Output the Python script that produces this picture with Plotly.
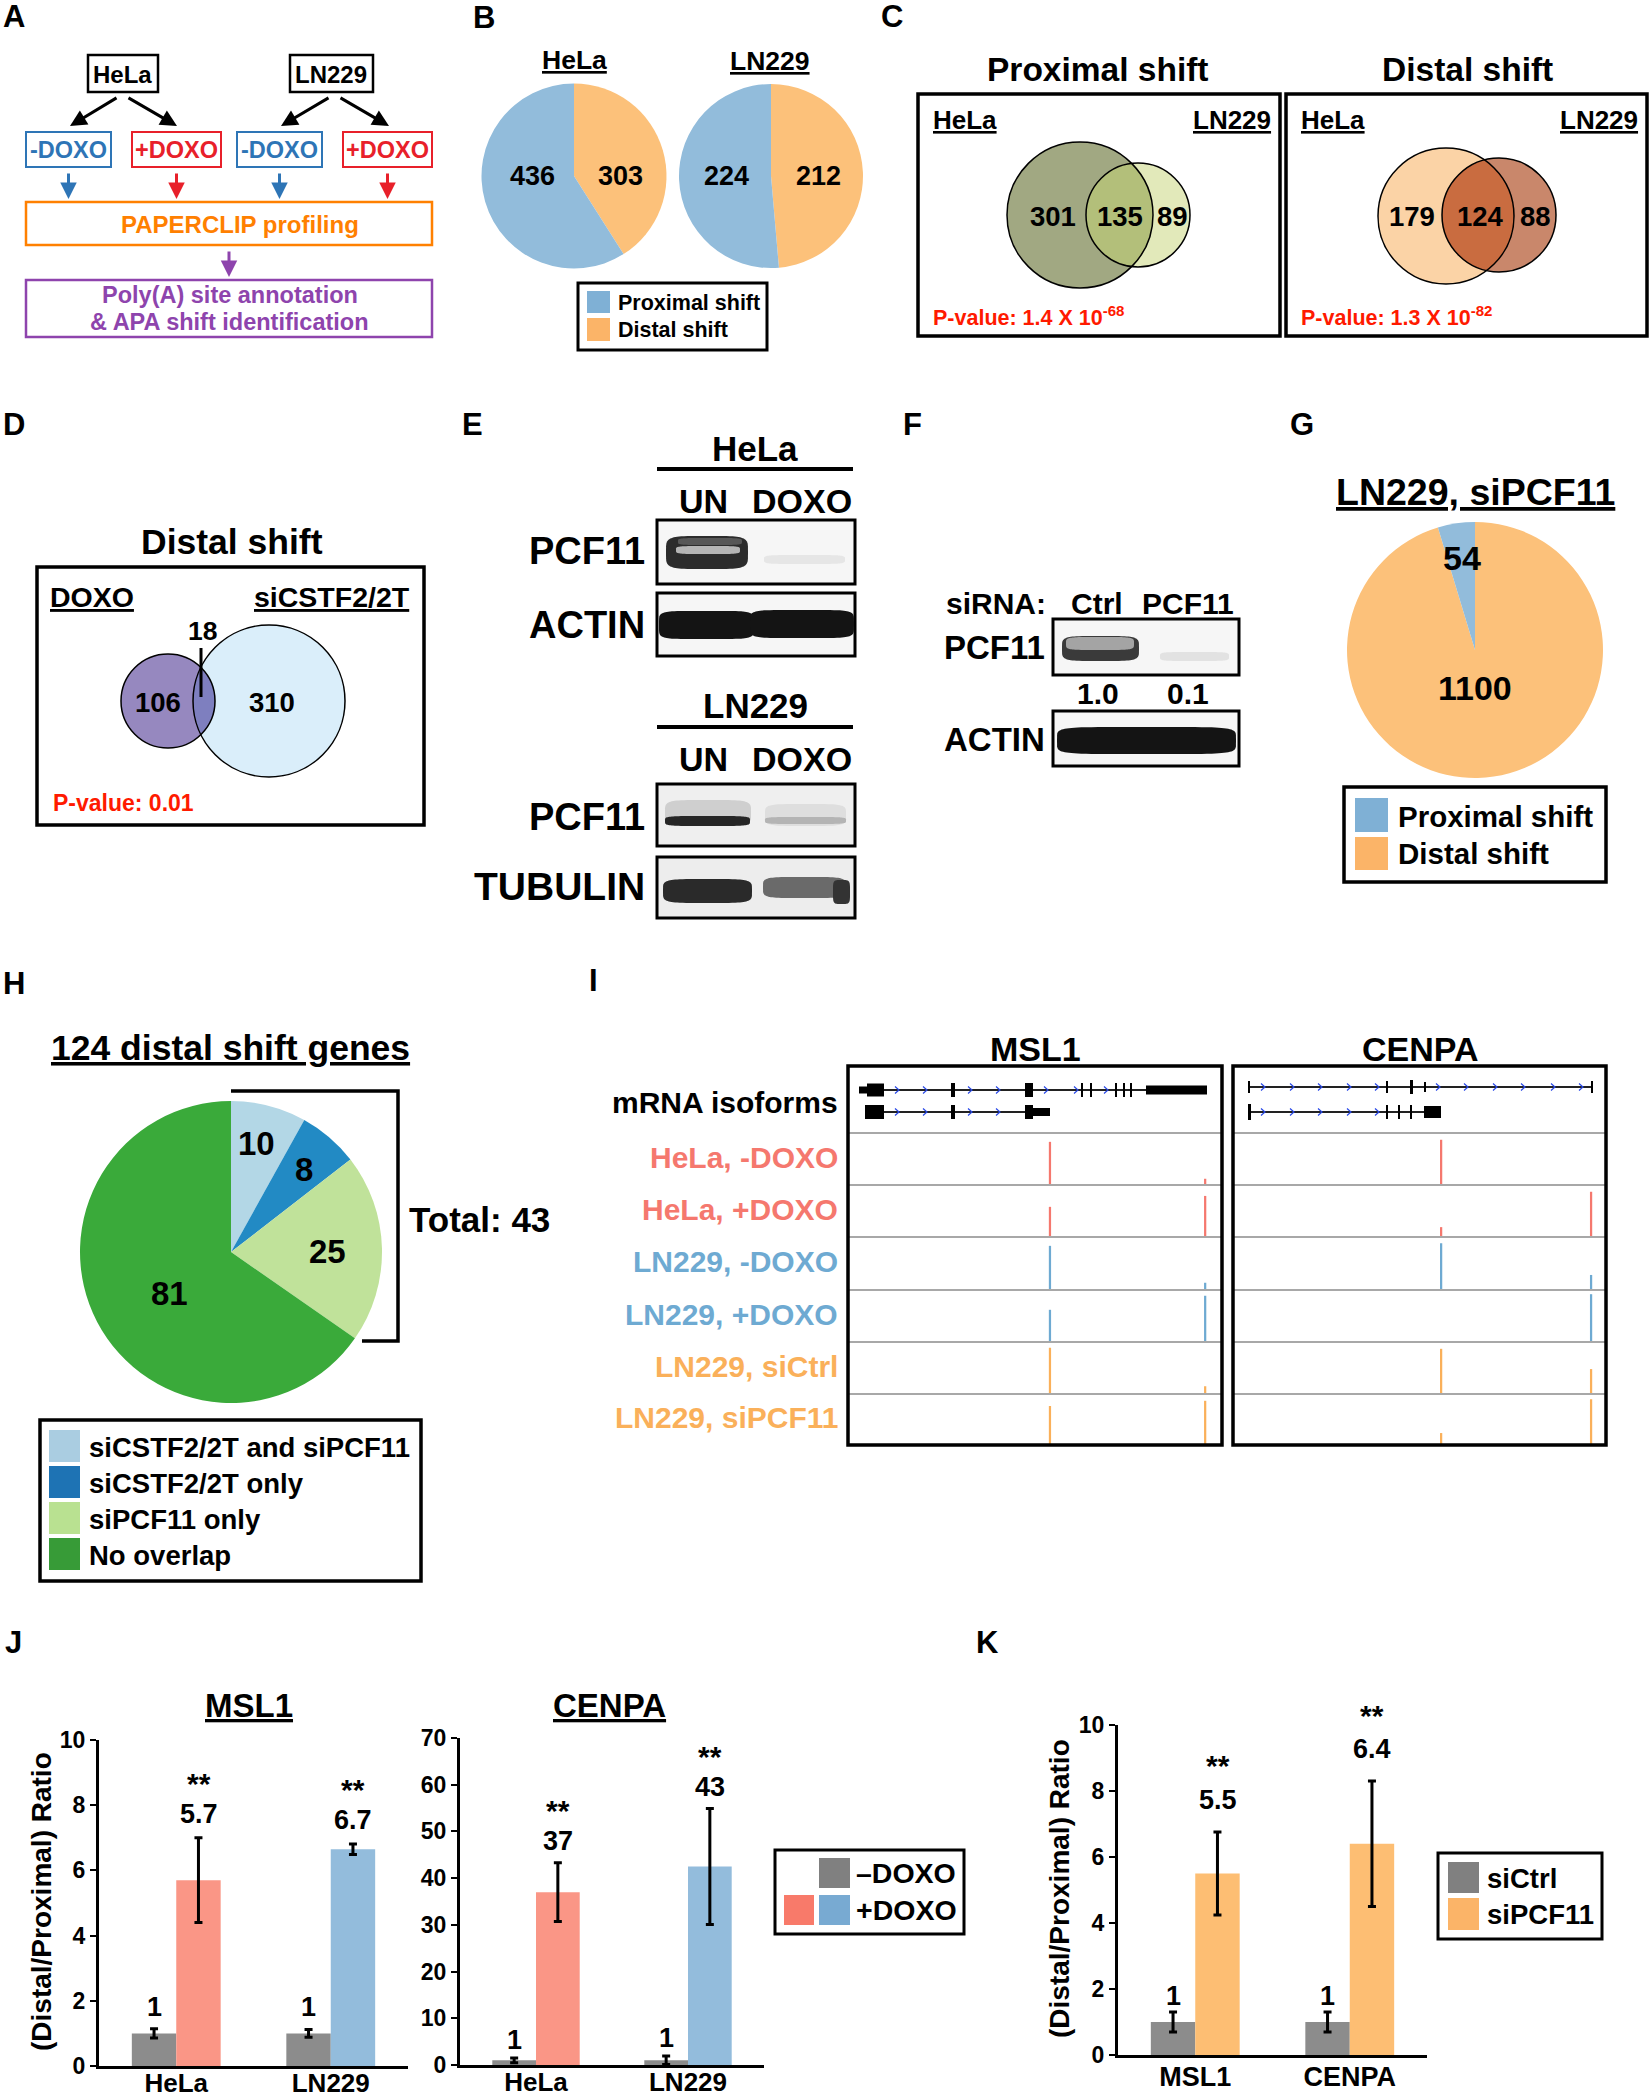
import numpy as np
import plotly.graph_objects as go

W, H = 1650, 2100
FONT = "Liberation Sans"

# ---------------- data ----------------
B_LABELS = ["Distal shift", "Proximal shift"]
B_HELA = [303, 436]
B_LN229 = [212, 224]

C_PROX = [301, 135, 89]      # HeLa only, both, LN229 only
C_DIST = [179, 124, 88]
C_PVAL = ["1.4 X 10<sup>-68</sup>", "1.3 X 10<sup>-82</sup>"]

D_COUNTS = [106, 18, 310]    # DOXO only, both, siCSTF2/2T only
D_PVAL = "0.01"

F_QUANT = ["1.0", "0.1"]

G_LABELS = ["Distal shift", "Proximal shift"]
G_VALUES = [1100, 54]

H_LABELS = ["siCSTF2/2T and siPCF11", "siCSTF2/2T only", "siPCF11 only", "No overlap"]
H_VALUES = [10, 8, 25, 81]
H_TOTAL = 43

I_TRACKS = ["HeLa, -DOXO", "HeLa, +DOXO", "LN229, -DOXO", "LN229, +DOXO",
            "LN229, siCtrl", "LN229, siPCF11"]
MSL1_SITES = [0.54, 0.955]       # P, D position along the gene box
CENPA_SITES = [0.558, 0.96]
MSL1_PROX = [0.83, 0.58, 0.83, 0.60, 0.87, 0.75]
MSL1_DIST = [0.12, 0.79, 0.12, 0.87, 0.13, 0.85]
CENPA_PROX = [0.87, 0.19, 0.88, 0.0, 0.85, 0.23]
CENPA_DIST = [0.0, 0.87, 0.27, 0.90, 0.46, 0.88]

J_GROUPS = ["HeLa", "LN229"]
J_MSL1_CTRL = [1, 1]
J_MSL1_CTRL_ERR = [0.14, 0.12]
J_MSL1_DOXO = [5.7, 6.65]
J_MSL1_DOXO_ERR = [1.3, 0.16]
J_MSL1_TXT = ["5.7", "6.7"]
J_CENPA_CTRL = [1, 1]
J_CENPA_CTRL_ERR = [0.5, 0.9]
J_CENPA_DOXO = [37, 42.5]
J_CENPA_DOXO_ERR = [6.3, 12.4]
J_CENPA_TXT = ["37", "43"]

K_GENES = ["MSL1", "CENPA"]
K_CTRL = [1, 1]
K_CTRL_ERR = [0.3, 0.3]
K_SI = [5.5, 6.4]
K_SI_ERR = [1.26, 1.9]
K_TXT = ["5.5", "6.4"]

# ---------------- colours ----------------
BLUE_A, RED_A, ORANGE_A, PURPLE_A = "#2e75b6", "#e8202a", "#ff8000", "#8e44ad"
PIE_BLUE, PIE_ORANGE = "#92bcdb", "#fcc17a"
SW_BLUE, SW_ORANGE = "#7fb0d5", "#fbb468"
GRAY = "#8c8c8c"
TR_RED, TR_BLUE, TR_ORANGE = "#f5786e", "#6eaad2", "#fab05a"
H_COLORS = ["#b3d7e6", "#228ac4", "#c0e29a", "#3aaa3a"]
H_SW = ["#aacde1", "#1e73b4", "#b9e191", "#379b37"]

shapes, ann = [], []


def X(p):
    return p / W


def Y(p):
    return 1 - p / H


def box(x0, y0, x1, y1, color="black", lw=3, fill="rgba(0,0,0,0)"):
    shapes.append(dict(type="rect", xref="paper", yref="paper", x0=X(x0), x1=X(x1),
                       y0=Y(y1), y1=Y(y0), fillcolor=fill, layer="above",
                       line=dict(color=color, width=lw)))


def seg(x0, y0, x1, y1, color="black", lw=3):
    shapes.append(dict(type="line", xref="paper", yref="paper", x0=X(x0), y0=Y(y0),
                       x1=X(x1), y1=Y(y1), line=dict(color=color, width=lw), layer="above"))


def poly(pts, fill, lw=0, color="black", closed=True, opacity=1):
    path = "M " + " L ".join(f"{X(a):.5f},{Y(b):.5f}" for a, b in pts) + (" Z" if closed else "")
    shapes.append(dict(type="path", xref="paper", yref="paper", path=path, fillcolor=fill,
                       opacity=opacity, line=dict(color=color, width=lw), layer="above"))


def disc(cx, cy, r, fill, lw=0):
    shapes.append(dict(type="circle", xref="paper", yref="paper", x0=X(cx - r), x1=X(cx + r),
                       y0=Y(cy + r), y1=Y(cy - r), fillcolor=fill, layer="above",
                       line=dict(color="black", width=lw)))


def lens(c1, r1, c2, r2, fill):
    t = np.linspace(0, 2 * np.pi, 360, endpoint=False)
    pts = []
    for (cx, cy, r), (ox, oy, rr) in [((c1[0], c1[1], r1), (c2[0], c2[1], r2)),
                                      ((c2[0], c2[1], r2), (c1[0], c1[1], r1))]:
        xs, ys = cx + r * np.cos(t), cy + r * np.sin(t)
        keep = (xs - ox) ** 2 + (ys - oy) ** 2 <= rr ** 2
        pts += list(zip(xs[keep], ys[keep]))
    mx = np.mean([p[0] for p in pts])
    my = np.mean([p[1] for p in pts])
    pts.sort(key=lambda p: np.arctan2(p[1] - my, p[0] - mx))
    poly(pts, fill)


def venn(c1, r1, f1, c2, r2, f2, fl):
    disc(c1[0], c1[1], r1, f1)
    disc(c2[0], c2[1], r2, f2)
    lens(c1, r1, c2, r2, fl)
    disc(c1[0], c1[1], r1, "rgba(0,0,0,0)", 1.5)
    disc(c2[0], c2[1], r2, "rgba(0,0,0,0)", 1.5)


def blob(x0, y0, x1, y1, color, opacity=1.0, n=5):
    t = np.linspace(0, 2 * np.pi, 80, endpoint=False)
    cx, cy, a, b = (x0 + x1) / 2, (y0 + y1) / 2, (x1 - x0) / 2, (y1 - y0) / 2
    c, s = np.cos(t), np.sin(t)
    xs = cx + a * np.sign(c) * np.abs(c) ** (2 / n)
    ys = cy + b * np.sign(s) * np.abs(s) ** (2 / n)
    poly(list(zip(xs, ys)), color, opacity=opacity)


def txt(x, y, s, size, color="black", xa="center", ya="middle", bold=True, under=False, angle=0):
    f = dict(family=FONT, size=size, color=color, weight="bold" if bold else "normal")
    if under:
        f["lineposition"] = "under"
    ann.append(dict(x=X(x), y=Y(y), xref="paper", yref="paper", text=s, showarrow=False,
                    font=f, xanchor=xa, yanchor=ya, textangle=angle))


def arrow(x0, y0, x1, y1, color, lw=3, size=1.1):
    ann.append(dict(x=X(x1), y=Y(y1), xref="paper", yref="paper", ax=x0 - x1, ay=y0 - y1,
                    showarrow=True, arrowhead=2, arrowsize=size, arrowwidth=lw,
                    arrowcolor=color, text="", standoff=0))


fig = go.Figure()

# ---------------- panel letters ----------------
for letter, (lx, ly) in zip("ABCDEFGHIJK", [(14, 16), (484, 18), (892, 16), (14, 424), (472, 424),
                                             (912, 424), (1302, 424), (14, 983), (593, 981),
                                             (13, 1642), (987, 1642)]):
    txt(lx, ly, letter, 31)

# ---------------- A: workflow ----------------
box(88, 55, 158, 92, lw=2.5)
box(290, 55, 373, 92, lw=2.5)
txt(123, 74, "HeLa", 24)
txt(331, 74, "LN229", 24)
for x0, x1, sign, col in [(26, 111, "-", BLUE_A), (132, 221, "+", RED_A),
                          (237, 322, "-", BLUE_A), (343, 432, "+", RED_A)]:
    box(x0, 132, x1, 167, color=col, lw=2)
    txt((x0 + x1) / 2, 150, sign + "DOXO", 23.5, color=col)
    arrow((x0 + x1) / 2, 172, (x0 + x1) / 2, 199, col, lw=3)
arrow(118, 97, 70, 126, "black")
arrow(127, 97, 177, 126, "black")
arrow(330, 97, 281, 126, "black")
arrow(339, 97, 389, 126, "black")
box(26, 202, 432, 245, color=ORANGE_A, lw=2.5)
txt(240, 224, "PAPERCLIP profiling", 24, color=ORANGE_A)
arrow(229, 250, 229, 277, PURPLE_A)
box(26, 280, 432, 337, color=PURPLE_A, lw=2.5)
txt(230, 295, "Poly(A) site annotation", 23.5, color=PURPLE_A)
txt(229, 322, "& APA shift identification", 23.5, color=PURPLE_A)


# ---------------- pies ----------------
def pie(values, labels, colors, cx, cy, r):
    fig.add_trace(go.Pie(values=values, labels=labels, sort=False, direction="clockwise",
                         rotation=0, textinfo="none", hoverinfo="skip", showlegend=False,
                         marker=dict(colors=colors, line=dict(width=0)),
                         domain=dict(x=[X(cx - r), X(cx + r)], y=[Y(cy + r), Y(cy - r)])))


# B
pie(B_HELA, B_LABELS, [PIE_ORANGE, PIE_BLUE], 574, 176, 92.5)
pie(B_LN229, B_LABELS, [PIE_ORANGE, PIE_BLUE], 771, 176, 92)
txt(574, 60, "HeLa", 26.5, under=True)
txt(770, 61, "LN229", 26.5, under=True)
txt(532, 176, str(B_HELA[1]), 27)
txt(620, 176, str(B_HELA[0]), 27)
txt(726, 176, str(B_LN229[1]), 27)
txt(818, 176, str(B_LN229[0]), 27)
box(578, 283, 767, 350, lw=3)
box(587, 291, 610, 313, lw=0, fill=SW_BLUE)
box(587, 318, 610, 341, lw=0, fill=SW_ORANGE)
txt(616, 303, B_LABELS[1], 21.5, xa="left")
txt(616, 330, B_LABELS[0], 21.5, xa="left")

# ---------------- C: venns ----------------
txt(1098, 70, "Proximal shift", 33.5)
txt(1467, 70, "Distal shift", 33.5)
for bx0, bx1 in [(918, 1280), (1286, 1647)]:
    box(bx0, 94, bx1, 336, lw=3.5)
    txt(bx0 + 13, 120, "HeLa", 26, xa="left", under=True)
    txt(bx1 - 7, 120, "LN229", 26, xa="right", under=True)
venn((1080, 215), 73, "#a1a882", (1138, 215), 52, "#e2e9ba", "#b3bf7a")
venn((1446, 216), 68, "#fbd3a6", (1499, 215), 57, "#c9876b", "#c96c40")
for xs, vals in [((1053, 1120, 1172), C_PROX), ((1412, 1480, 1535), C_DIST)]:
    for xv, v in zip(xs, vals):
        txt(xv, 216, str(v), 27.5)
txt(931, 316, "P-value: " + C_PVAL[0], 21.5, color="#ff1a00", xa="left")
txt(1299, 316, "P-value: " + C_PVAL[1], 21.5, color="#ff1a00", xa="left")

# ---------------- D ----------------
txt(232, 542, "Distal shift", 35.5)
box(37, 567, 424, 825, lw=3.5)
txt(48, 597, "DOXO", 28.5, xa="left", under=True)
txt(412, 597, "siCSTF2/2T", 28.5, xa="right", under=True)
venn((168, 701), 47, "#9688bf", (269, 701), 76, "#daeefa", "#7e7fbf")
txt(158, 702, str(D_COUNTS[0]), 27.5)
txt(272, 702, str(D_COUNTS[2]), 27.5)
txt(202, 631, str(D_COUNTS[1]), 26.5)
seg(201, 648, 201, 697, lw=3)
txt(51, 803, "P-value: " + D_PVAL, 23, color="#ff1a00", xa="left")

# ---------------- E: western blots ----------------
for top, cell in [(448, "HeLa"), (706, "LN229")]:
    txt(755, top, cell, 35)
    seg(657, top + 21, 853, top + 21, lw=4)
    txt(703, top + 53, "UN", 34)
    txt(802, top + 53, "DOXO", 34)
# HeLa
box(657, 520, 855, 584, lw=3, fill="#f6f6f6")
box(657, 593, 855, 656, lw=3, fill="#f6f6f6")
txt(647, 551, "PCF11", 38, xa="right")
txt(647, 625, "ACTIN", 38, xa="right")
blob(666, 536, 748, 569, "#2c2c2c")
blob(676, 546, 740, 554, "#c4c4c4", opacity=0.9)
blob(678, 538, 742, 545, "#6a6a6a", opacity=0.7)
blob(764, 555, 845, 564, "#e6e6e6")
blob(659, 611, 754, 639, "#141414", n=6)
blob(750, 610, 854, 638, "#141414", n=6)
# LN229
box(657, 784, 855, 846, lw=3, fill="#efefef")
box(657, 857, 855, 918, lw=3, fill="#ededed")
txt(647, 817, "PCF11", 38, xa="right")
txt(647, 887, "TUBULIN", 39, xa="right")
blob(665, 800, 751, 826, "#cfcfcf")
blob(665, 816, 750, 826, "#262626")
blob(765, 804, 846, 826, "#dedede")
blob(765, 817, 846, 824, "#b4b4b4")
blob(663, 879, 752, 903, "#2a2a2a")
blob(763, 877, 846, 898, "#6a6a6a")
blob(833, 880, 850, 904, "#333333")

# ---------------- F ----------------
txt(944, 603, "siRNA:", 30, xa="left")
txt(1097, 603, "Ctrl", 30)
txt(1188, 603, "PCF11", 30)
box(1053, 619, 1239, 675, lw=3, fill="#f6f6f6")
box(1053, 711, 1239, 766, lw=3, fill="#f6f6f6")
txt(1047, 648, "PCF11", 33, xa="right")
txt(1047, 739, "ACTIN", 33, xa="right")
txt(1098, 693, F_QUANT[0], 30)
txt(1188, 693, F_QUANT[1], 30)
blob(1062, 636, 1139, 661, "#3a3a3a")
blob(1066, 637, 1134, 650, "#b0b0b0", opacity=0.9)
blob(1160, 652, 1229, 661, "#e2e2e2")
blob(1057, 727, 1236, 754, "#141414", n=6)

# ---------------- G ----------------
txt(1475, 492, "LN229, siPCF11", 37.5, under=True)
pie(G_VALUES, G_LABELS, [PIE_ORANGE, PIE_BLUE], 1475, 650, 128)
txt(1462, 558, str(G_VALUES[1]), 34)
txt(1475, 688, str(G_VALUES[0]), 34)
box(1344, 787, 1606, 882, lw=3.5)
box(1355, 798, 1388, 832, lw=0, fill=SW_BLUE)
box(1355, 837, 1388, 870, lw=0, fill=SW_ORANGE)
txt(1396, 816, G_LABELS[1], 29.5, xa="left")
txt(1396, 853, G_LABELS[0], 29.5, xa="left")

# ---------------- H ----------------
txt(230, 1048, "124 distal shift genes", 35.5, under=True)
pie(H_VALUES, H_LABELS, H_COLORS, 231, 1252, 151)
for (lx, ly), v in zip([(256, 1143), (304, 1169), (327, 1251), (169, 1293)], H_VALUES):
    txt(lx, ly, str(v), 33)
poly([(231, 1091), (398, 1091), (398, 1341), (362, 1341)], "rgba(0,0,0,0)", lw=3.5, closed=False)
txt(407, 1219, f"Total: {H_TOTAL}", 35, xa="left")
box(40, 1420, 421, 1581, lw=3.5)
for i, (lab, col) in enumerate(zip(H_LABELS, H_SW)):
    cy = 1446 + i * 36
    box(49, cy - 16, 80, cy + 16, lw=0, fill=col)
    txt(87, cy + 1, lab, 27.5, xa="left")

# ---------------- I: tracks ----------------
txt(1035, 1049, "MSL1", 34)
txt(1420, 1049, "CENPA", 34)
ROWS = [1133, 1185, 1237, 1290, 1342, 1394, 1445]
TR_COLORS = [TR_RED, TR_RED, TR_BLUE, TR_BLUE, TR_ORANGE, TR_ORANGE]
txt(840, 1102, "mRNA isoforms", 30, xa="right")
for k, lab in enumerate(I_TRACKS):
    txt(840, (ROWS[k] + ROWS[k + 1]) / 2 - 2, lab, 30, color=TR_COLORS[k], xa="right")
for bx0, bx1 in [(848, 1222), (1233, 1606)]:
    for yy in ROWS[:-1]:
        seg(bx0, yy, bx1, yy, color="#a8a8a8", lw=2)
    box(bx0, 1066, bx1, 1445, lw=3.5)


def chevrons(xs, y):
    for cx in xs:
        poly([(cx - 2, y - 3.5), (cx + 2, y), (cx - 2, y + 3.5)], "rgba(0,0,0,0)",
             lw=1.2, color="#2848e8", closed=False)


def exon(x0, x1, yc, h):
    box(x0, yc - h / 2, x1, yc + h / 2, lw=0, fill="black")


# MSL1 isoforms
seg(860, 1090, 1207, 1090, color="#222222", lw=2)
exon(859, 867, 1090, 7)
exon(867, 884, 1090, 13)
for a, b in [(951, 955), (1025, 1033), (1081, 1083), (1090, 1092), (1115, 1117), (1123, 1125), (1130, 1132)]:
    exon(a, b, 1090, 14)
exon(1146, 1207, 1090, 9)
chevrons([897, 925, 970, 998, 1046, 1076, 1106], 1090)
seg(865, 1112, 1050, 1112, color="#222222", lw=2)
exon(865, 884, 1112, 14)
exon(951, 955, 1112, 14)
exon(1025, 1033, 1112, 14)
exon(1033, 1050, 1112, 8)
chevrons([897, 925, 970, 998], 1112)
# CENPA isoforms
seg(1249, 1087, 1592, 1087, color="#222222", lw=2)
for a, b, h in [(1248, 1250, 12), (1591, 1593, 12), (1386, 1388, 12), (1410, 1413, 14), (1424, 1426, 10)]:
    exon(a, b, 1087, h)
chevrons([1263, 1292, 1320, 1349, 1377, 1438, 1466, 1495, 1523, 1553, 1581], 1087)
seg(1249, 1112, 1441, 1112, color="#222222", lw=2)
for a, b, h in [(1248, 1251, 16), (1386, 1388, 14), (1398, 1400, 14), (1410, 1412, 14)]:
    exon(a, b, 1112, h)
exon(1424, 1441, 1112, 12)
chevrons([1263, 1292, 1320, 1349, 1377], 1112)

for n, sites, prox, dist, (bx0, bx1) in [(4, MSL1_SITES, MSL1_PROX, MSL1_DIST, (848, 1222)),
                                        (5, CENPA_SITES, CENPA_PROX, CENPA_DIST, (1233, 1606))]:
    base = [5 - k for k in range(6)]
    fig.add_trace(go.Bar(x=[sites[0]] * 6 + [sites[1]] * 6, y=prox + dist, base=base + base,
                         width=0.006, marker=dict(color=TR_COLORS + TR_COLORS, line=dict(width=0)),
                         xaxis=f"x{n}", yaxis=f"y{n}", hoverinfo="skip", showlegend=False))
    fig.add_trace(go.Scatter(x=sites, y=[-0.25, -0.25], mode="markers+text", text=["P", "D"],
                             textposition="bottom center", cliponaxis=False,
                             marker=dict(symbol="triangle-up", size=20, color="black"),
                             textfont=dict(family=FONT, size=22, color="black", weight="bold"),
                             xaxis=f"x{n}", yaxis=f"y{n}", hoverinfo="skip", showlegend=False))
    fig.update_layout(**{
        f"xaxis{n}": dict(domain=[X(bx0), X(bx1)], range=[0, 1], visible=False,
                          anchor=f"y{n}", automargin=False),
        f"yaxis{n}": dict(domain=[Y(1445), Y(1133)], range=[0, 6], visible=False,
                          anchor=f"x{n}", automargin=False),
    })


# ---------------- J / K bar charts ----------------
def err(arr):
    return dict(type="data", array=arr, color="black", thickness=3, width=4)


def bar_panel(n, cats, c_vals, c_err, t_vals, t_err, t_colors, t_txt, xd, yd, yrange, dtick,
              s1, s2, s3, cat_size=27, standoff=-4):
    sx = "" if n == 1 else str(n)
    fig.add_trace(go.Bar(x=cats, y=c_vals, error_y=err(c_err), marker=dict(color=GRAY, line=dict(width=0)),
                         xaxis="x" + sx, yaxis="y" + sx, hoverinfo="skip", showlegend=False))
    fig.add_trace(go.Bar(x=cats, y=t_vals, error_y=err(t_err), marker=dict(color=t_colors, line=dict(width=0)),
                         xaxis="x" + sx, yaxis="y" + sx, hoverinfo="skip", showlegend=False))
    tf = dict(family=FONT, color="black", weight="bold")
    fig.update_layout(**{
        "xaxis" + sx: dict(domain=[X(xd[0]), X(xd[1])], anchor="y" + sx, type="category",
                           range=[-0.5, 1.5], showline=True, linecolor="black", linewidth=3,
                           ticks="", showgrid=False, zeroline=False, automargin=False,
                           ticklabelstandoff=standoff, tickfont=dict(size=cat_size, **tf)),
        "yaxis" + sx: dict(domain=[Y(yd[0]), Y(yd[1])], anchor="x" + sx, range=yrange, dtick=dtick,
                           showline=True, linecolor="black", linewidth=3, ticks="outside",
                           ticklen=6, tickwidth=2, tickcolor="black", showgrid=False,
                           zeroline=False, automargin=False, tickfont=dict(size=23, **tf)),
    })
    for i in range(2):
        common = dict(xref="x" + sx, yref="y" + sx, showarrow=False, yanchor="middle")
        ann.append(dict(x=i - 0.144, y=c_vals[i] + c_err[i], yshift=s1, text=str(c_vals[i]),
                        font=dict(size=27, **tf), **common))
        ann.append(dict(x=i + 0.144, y=t_vals[i] + t_err[i], yshift=s2, text=t_txt[i],
                        font=dict(size=27, **tf), **common))
        ann.append(dict(x=i + 0.144, y=t_vals[i] + t_err[i], yshift=s3, text="**",
                        font=dict(size=30, **tf), **common))


bar_panel(1, J_GROUPS, J_MSL1_CTRL, J_MSL1_CTRL_ERR, J_MSL1_DOXO, J_MSL1_DOXO_ERR,
          ["#fa9686", "#93bcdc"], J_MSL1_TXT, (99, 408), (2066, 1740), [0, 10], 2, 22, 24, 54,
          cat_size=26, standoff=-8)
bar_panel(2, J_GROUPS, J_CENPA_CTRL, J_CENPA_CTRL_ERR, J_CENPA_DOXO, J_CENPA_DOXO_ERR,
          ["#fa9686", "#93bcdc"], J_CENPA_TXT, (460, 764), (2065, 1738), [0, 70], 10, 18, 22, 52,
          cat_size=26, standoff=-8)
bar_panel(3, K_GENES, K_CTRL, K_CTRL_ERR, K_SI, K_SI_ERR,
          ["#fdbe73", "#fdbe73"], K_TXT, (1118, 1427), (2055, 1725), [0, 10], 2, 16, 32, 66)

txt(249, 1705, "MSL1", 33, under=True)
txt(609, 1705, "CENPA", 33, under=True)
txt(41, 1902, "(Distal/Proximal) Ratio", 28, angle=-90)
txt(1059, 1889, "(Distal/Proximal) Ratio", 28, angle=-90)

box(775, 1850, 964, 1934, lw=3)
box(819, 1858, 850, 1888, lw=0, fill="#808080")
box(784, 1895, 814, 1925, lw=0, fill="#f87a6a")
box(819, 1895, 850, 1925, lw=0, fill="#78aad2")
txt(854, 1873, "\u2013DOXO", 28.5, xa="left")
txt(854, 1910, "+DOXO", 28.5, xa="left")

box(1438, 1853, 1602, 1939, lw=3)
box(1448, 1862, 1479, 1893, lw=0, fill="#808080")
box(1448, 1898, 1479, 1930, lw=0, fill=SW_ORANGE)
txt(1485, 1878, "siCtrl", 27.5, xa="left")
txt(1485, 1914, "siPCF11", 27.5, xa="left")

fig.update_layout(
    width=W, height=H,
    margin=dict(l=0, r=0, t=0, b=0, pad=0, autoexpand=False),
    paper_bgcolor="white", plot_bgcolor="rgba(0,0,0,0)",
    font=dict(family=FONT, color="black"),
    barmode="group", bargap=0.425, bargroupgap=0,
    showlegend=False,
    shapes=shapes, annotations=ann,
)

fig.write_html("out.html", config={"displayModeBar": False},
               post_script="document.body.style.margin='0';")
